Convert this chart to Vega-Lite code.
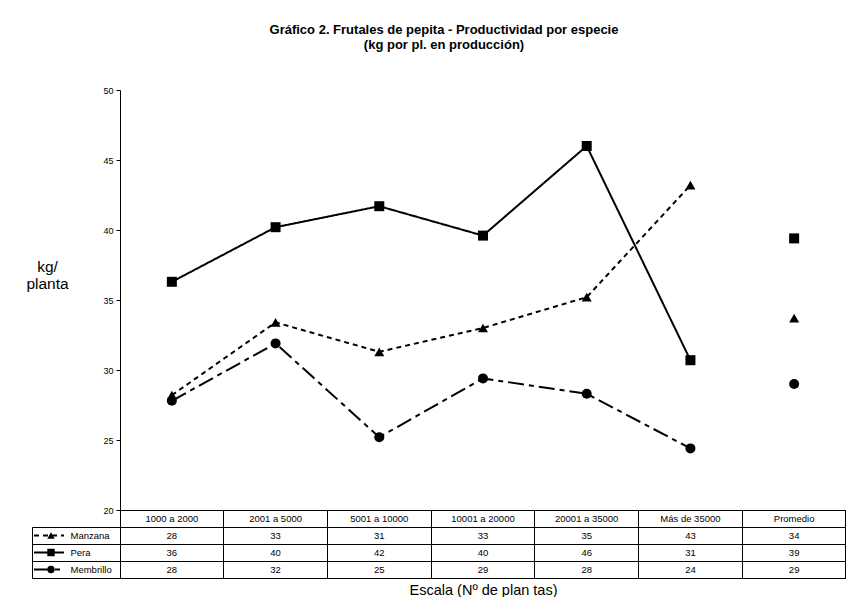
{
  "$schema": "https://vega.github.io/schema/vega-lite/v6.json",
  "width": 726,
  "height": 420,
  "padding": {"left": 25, "top": 24, "right": 0, "bottom": 0},
  "background": "white",
  "config": {
    "font": "Liberation Sans",
    "view": {"stroke": null},
    "axis": {"labelColor": "black", "titleColor": "black", "domainColor": "black", "tickColor": "black", "gridColor": "black", "grid": false, "labelFont": "Liberation Sans", "titleFont": "Liberation Sans", "domainWidth": 1, "tickWidth": 1}
  },
  "title": {
    "text": ["Gráfico 2. Frutales de pepita - Productividad por especie", "(kg por pl. en producción)"],
    "fontSize": 13, "fontWeight": "bold", "font": "Liberation Sans", "color": "black",
    "anchor": "middle", "lineHeight": 15, "offset": 34, "dx": -39
  },
  "data": {
    "values": [
      {"escala": "1000 a 2000", "especie": "Manzana", "kg": 28.2},
      {"escala": "2001 a 5000", "especie": "Manzana", "kg": 33.4},
      {"escala": "5001 a 10000", "especie": "Manzana", "kg": 31.3},
      {"escala": "10001 a 20000", "especie": "Manzana", "kg": 33.0},
      {"escala": "20001 a 35000", "especie": "Manzana", "kg": 35.2},
      {"escala": "Más de 35000", "especie": "Manzana", "kg": 43.2},
      {"escala": "Promedio", "especie": "Manzana", "kg": 33.7},
      {"escala": "1000 a 2000", "especie": "Pera", "kg": 36.3},
      {"escala": "2001 a 5000", "especie": "Pera", "kg": 40.2},
      {"escala": "5001 a 10000", "especie": "Pera", "kg": 41.7},
      {"escala": "10001 a 20000", "especie": "Pera", "kg": 39.6},
      {"escala": "20001 a 35000", "especie": "Pera", "kg": 46.0},
      {"escala": "Más de 35000", "especie": "Pera", "kg": 30.7},
      {"escala": "Promedio", "especie": "Pera", "kg": 39.4},
      {"escala": "1000 a 2000", "especie": "Membrillo", "kg": 27.8},
      {"escala": "2001 a 5000", "especie": "Membrillo", "kg": 31.9},
      {"escala": "5001 a 10000", "especie": "Membrillo", "kg": 25.2},
      {"escala": "10001 a 20000", "especie": "Membrillo", "kg": 29.4},
      {"escala": "20001 a 35000", "especie": "Membrillo", "kg": 28.3},
      {"escala": "Más de 35000", "especie": "Membrillo", "kg": 24.4},
      {"escala": "Promedio", "especie": "Membrillo", "kg": 29.0}
    ]
  },
  "layer": [
    {
      "encoding": {
        "x": {
          "field": "escala", "type": "nominal",
          "sort": ["1000 a 2000", "2001 a 5000", "5001 a 10000", "10001 a 20000", "20001 a 35000", "Más de 35000", "Promedio"],
          "scale": {"type": "band", "domain": ["1000 a 2000", "2001 a 5000", "5001 a 10000", "10001 a 20000", "20001 a 35000", "Más de 35000", "Promedio"], "paddingInner": 0, "paddingOuter": 0},
          "bandPosition": 0.5,
          "axis": {"orient": "bottom", "title": "Escala (Nº de plan tas)", "titleFontSize": 14.5, "titleFontWeight": "normal", "titlePadding": 60, "labelAngle": 0, "labelFontSize": 9.5, "labelBaseline": "middle", "labelPadding": 8.5, "ticks": false, "domain": true, "bandPosition": 0.5}
        },
        "y": {
          "field": "kg", "type": "quantitative",
          "scale": {"domain": [20, 50], "nice": false, "zero": false},
          "axis": {"orient": "left", "values": [20, 25, 30, 35, 40, 45, 50], "tickSize": 4, "labelPadding": 3, "labelFontSize": 9, "domain": true, "grid": false, "title": ["kg/", "planta"], "titleAngle": 0, "titleFontSize": 15.5, "titleFontWeight": "normal", "titleAlign": "center", "titleBaseline": "middle", "titleLineHeight": 17, "titleX": -73, "titleY": 176}
        }
      },
      "layer": [
        {
          "transform": [{"filter": "datum.escala !== 'Promedio'"}],
          "mark": {"type": "line", "color": "black", "strokeWidth": 2},
          "encoding": {
            "strokeDash": {"field": "especie", "type": "nominal", "scale": {"domain": ["Manzana", "Pera", "Membrillo"], "range": [[5, 4], [1, 0], [16, 5, 5, 5]]}, "legend": null}
          }
        },
        {
          "mark": {"type": "point", "filled": true, "color": "black", "opacity": 1, "size": 100},
          "encoding": {
            "shape": {"field": "especie", "type": "nominal", "scale": {"domain": ["Manzana", "Pera", "Membrillo"], "range": ["triangle-up", "square", "circle"]}, "legend": null}
          }
        }
      ]
    },
    {
      "mark": {"type": "text", "fontSize": 9.5, "color": "black", "font": "Liberation Sans", "baseline": "middle", "align": "center"},
      "encoding": {
        "x": {
          "field": "escala", "type": "nominal",
          "sort": ["1000 a 2000", "2001 a 5000", "5001 a 10000", "10001 a 20000", "20001 a 35000", "Más de 35000", "Promedio"],
          "scale": {"type": "band", "domain": ["1000 a 2000", "2001 a 5000", "5001 a 10000", "10001 a 20000", "20001 a 35000", "Más de 35000", "Promedio"], "paddingInner": 0, "paddingOuter": 0},
          "axis": {"orient": "bottom", "title": null, "labels": false, "domain": false, "ticks": true, "tickSize": 68, "bandPosition": 1}
        },
        "y": {
          "field": "especie", "type": "nominal",
          "scale": {"type": "band", "domain": ["", "Manzana", "Pera", "Membrillo"], "range": [420, 488], "paddingInner": 0, "paddingOuter": 0},
          "axis": {"orient": "left", "title": null, "ticks": false, "domain": true, "labelAlign": "left", "labelPadding": 50, "labelFontSize": 9.5, "labelBaseline": "middle", "bandPosition": 0.5}
        },
        "text": {"field": "kg", "type": "quantitative", "format": ".0f"}
      }
    },
    {
      "transform": [{"filter": "datum.escala === '1000 a 2000'"}],
      "mark": {"type": "rule", "color": "black", "strokeWidth": 2, "xOffset": -86, "x2Offset": -56},
      "encoding": {
        "x": {
          "field": "escala", "type": "nominal",
          "scale": {"type": "band", "domain": ["1000 a 2000", "2001 a 5000", "5001 a 10000", "10001 a 20000", "20001 a 35000", "Más de 35000", "Promedio"], "paddingInner": 0, "paddingOuter": 0},
          "bandPosition": 0,
          "axis": null
        },
        "x2": {"field": "escala", "bandPosition": 0},
        "y": {
          "field": "especie", "type": "nominal",
          "scale": {"type": "band", "domain": ["Manzana", "Pera", "Membrillo"], "range": [437, 488], "paddingInner": 0, "paddingOuter": 0},
          "axis": {"orient": "left", "title": null, "labels": false, "ticks": false, "domain": true, "offset": 88}
        },
        "strokeDash": {"field": "especie", "type": "nominal", "scale": {"domain": ["Manzana", "Pera", "Membrillo"], "range": [[5, 4], [1, 0], [16, 5, 5, 5]]}, "legend": null}
      }
    },
    {
      "transform": [{"filter": "datum.escala === '1000 a 2000'"}],
      "mark": {"type": "point", "filled": true, "color": "black", "opacity": 1, "size": 55, "xOffset": -69},
      "encoding": {
        "x": {
          "field": "escala", "type": "nominal",
          "scale": {"type": "band", "domain": ["1000 a 2000", "2001 a 5000", "5001 a 10000", "10001 a 20000", "20001 a 35000", "Más de 35000", "Promedio"], "paddingInner": 0, "paddingOuter": 0},
          "bandPosition": 0,
          "axis": null
        },
        "y": {
          "field": "especie", "type": "nominal",
          "scale": {"type": "band", "domain": ["", "Manzana", "Pera", "Membrillo"], "range": [420, 488], "paddingInner": 0, "paddingOuter": 0},
          "axis": {"orient": "left", "title": null, "labels": false, "domain": false, "ticks": true, "tickSize": 88, "bandPosition": 1, "grid": true, "gridColor": "black", "gridOpacity": 1}
        },
        "shape": {"field": "especie", "type": "nominal", "scale": {"domain": ["Manzana", "Pera", "Membrillo"], "range": ["triangle-up", "square", "circle"]}, "legend": null}
      }
    }
  ],
  "resolve": {"scale": {"x": "independent", "y": "independent", "strokeDash": "independent", "shape": "independent"}}
}
